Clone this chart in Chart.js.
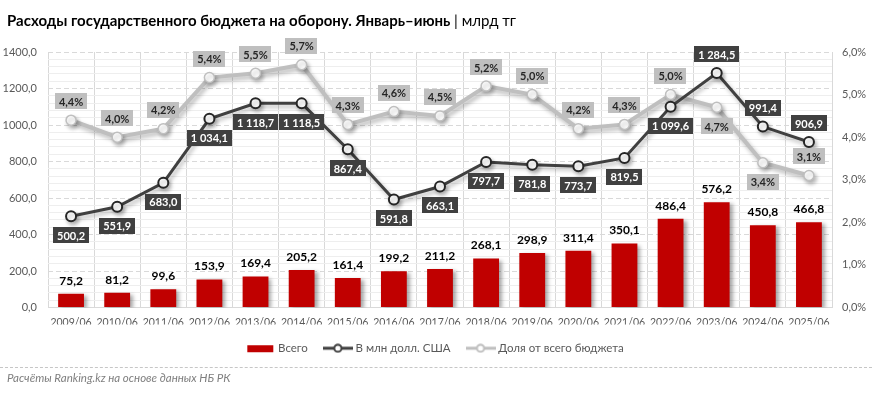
<!DOCTYPE html>
<html>
<head>
<meta charset="utf-8">
<script src="https://cdn.jsdelivr.net/npm/chart.js@4.4.1/dist/chart.umd.min.js"></script>
<style>
html,body{margin:0;padding:0;background:#fff;}
#wrap{position:relative;width:872px;height:393px;overflow:hidden;background:#fff;}
#chart{position:absolute;left:0;top:0;}
#title{position:absolute;left:7px;top:11px;font-family:Lato,"Liberation Sans",sans-serif;font-size:15px;color:#000;white-space:nowrap;line-height:18px;}
#title b{font-weight:700;}
#sep{position:absolute;left:0;top:367px;width:872px;height:0;border-top:1px dashed #c6c6c6;}
#foot{position:absolute;left:7px;top:371px;font-family:Lato,"Liberation Sans",sans-serif;font-style:italic;font-size:11.5px;color:#7f7f7f;white-space:nowrap;line-height:14px;}
</style>
</head>
<body>
<div id="wrap">
  <canvas id="chart" width="872" height="393"></canvas>
  <div id="title"><b>Расходы государственного бюджета на оборону. Январь–июнь</b> | млрд тг</div>
  <div id="sep"></div>
  <div id="foot">Расчёты Ranking.kz на основе данных НБ РК</div>
</div>
<script>
// ---- data ----
const categories = ['2009/06','2010/06','2011/06','2012/06','2013/06','2014/06','2015/06','2016/06','2017/06','2018/06','2019/06','2020/06','2021/06','2022/06','2023/06','2024/06','2025/06'];
const totalKzt = [75.2, 81.2, 99.6, 153.9, 169.4, 205.2, 161.4, 199.2, 211.2, 268.1, 298.9, 311.4, 350.1, 486.4, 576.2, 450.8, 466.8];
const usdMln = [500.2, 551.9, 683.0, 1034.1, 1118.7, 1118.5, 867.4, 591.8, 663.1, 797.7, 781.8, 773.7, 819.5, 1099.6, 1284.5, 991.4, 906.9];
const shareBudget = [4.4, 4.0, 4.2, 5.4, 5.5, 5.7, 4.3, 4.6, 4.5, 5.2, 5.0, 4.2, 4.3, 5.0, 4.7, 3.4, 3.1];
const seriesNames = ['Всего', 'В млн долл. США', 'Доля от всего бюджета'];
const leftTicks = [0, 200, 400, 600, 800, 1000, 1200, 1400];
const rightTicks = [0, 1, 2, 3, 4, 5, 6];
const usdLabelSide = ['below','below','below','below','below','below','below','below','below','below','below','below','below','below','above','above','above'];
const shareLabelSide = ['above','above','above','above','above','above','above','above','above','above','above','above','above','above','below','below','above'];

// ---- styles ----
const FONT = 'Lato, "Liberation Sans", sans-serif';
const RED = '#C00000', DARK = '#404040', GREY = '#BFBFBF';

function fmt(v){
  const s = v.toFixed(1).split('.');
  return s[0].replace(/\B(?=(\d{3})+(?!\d))/g, ' ') + ',' + s[1];
}
function fmtTick(v){
  return v.toFixed(1).replace('.', ',');
}

function makeIcon(kind){
  const c = document.createElement('canvas');
  c.width = 30; c.height = 10;
  const g = c.getContext('2d');
  if (kind === 'bar') {
    g.fillStyle = RED; g.fillRect(2, 2, 26, 7);
  } else {
    const col = kind === 'dark' ? DARK : GREY;
    g.strokeStyle = col; g.lineWidth = 3;
    g.beginPath(); g.moveTo(0, 5); g.lineTo(30, 5); g.stroke();
    g.beginPath(); g.arc(15, 5, 3.6, 0, Math.PI*2);
    g.fillStyle = '#fff'; g.fill(); g.lineWidth = 2; g.stroke();
  }
  return c;
}
const icons = [makeIcon('bar'), makeIcon('dark'), makeIcon('grey')];

const shadowPlugin = {
  id: 'shadows',
  beforeDatasetDraw(chart, args){
    const ctx = chart.ctx;
    ctx.save();
    if (args.index === 0) {
      ctx.shadowColor = 'rgba(0,0,0,0.35)';
      ctx.shadowBlur = 4; ctx.shadowOffsetX = 3; ctx.shadowOffsetY = 2;
    } else {
      ctx.shadowColor = 'rgba(0,0,0,0.28)';
      ctx.shadowBlur = 4; ctx.shadowOffsetX = 2; ctx.shadowOffsetY = 3;
    }
  },
  afterDatasetDraw(chart){
    chart.ctx.restore();
  }
};

function boxLabel(ctx, text, x, y, bg, fg){
  ctx.font = 'bold 11px ' + FONT;
  const w = ctx.measureText(text).width + 8;
  const h = 16;
  ctx.fillStyle = bg;
  ctx.fillRect(Math.round(x - w/2), Math.round(y - h/2), Math.round(w), h);
  ctx.fillStyle = fg;
  ctx.textAlign = 'center'; ctx.textBaseline = 'middle';
  ctx.fillText(text, x, y + 1);
}

const labelPlugin = {
  id: 'valueLabels',
  afterDatasetsDraw(chart){
    const ctx = chart.ctx;
    ctx.save();
    // bar labels
    const bm = chart.getDatasetMeta(0);
    ctx.font = 'bold 12px ' + FONT;
    ctx.fillStyle = '#000';
    ctx.textAlign = 'center'; ctx.textBaseline = 'middle';
    bm.data.forEach((el, i) => {
      ctx.fillText(fmt(totalKzt[i]), el.x, el.y - 13);
    });
    // share labels
    const sm = chart.getDatasetMeta(2);
    sm.data.forEach((el, i) => {
      const dy = shareLabelSide[i] === 'above' ? -19 : 19;
      boxLabel(ctx, fmt(shareBudget[i]) + '%', el.x, el.y + dy, GREY, '#262626');
    });
    // usd labels
    const um = chart.getDatasetMeta(1);
    um.data.forEach((el, i) => {
      const dy = usdLabelSide[i] === 'above' ? -19 : 19;
      boxLabel(ctx, fmt(usdMln[i]), el.x, el.y + dy, DARK, '#fff');
    });
    ctx.restore();
  }
};

new Chart(document.getElementById('chart'), {
  data: {
    labels: categories,
    datasets: [
      {
        type: 'bar', label: seriesNames[0], data: totalKzt, yAxisID: 'y',
        backgroundColor: RED, borderWidth: 0,
        barPercentage: 0.56, categoryPercentage: 1, order: 3
      },
      {
        type: 'line', label: seriesNames[1], data: usdMln, yAxisID: 'y',
        borderColor: DARK, borderWidth: 3, tension: 0,
        pointRadius: 5, pointBorderWidth: 2, pointBackgroundColor: '#fff', pointBorderColor: '#262626',
        order: 1
      },
      {
        type: 'line', label: seriesNames[2], data: shareBudget, yAxisID: 'y1',
        borderColor: GREY, borderWidth: 4, tension: 0,
        pointRadius: 5, pointBorderWidth: 1.5, pointBackgroundColor: '#fff', pointBorderColor: GREY,
        order: 2
      }
    ]
  },
  options: {
    responsive: false,
    animation: false,
    layout: { padding: { top: 52, left: 0, right: 0, bottom: 29 } },
    plugins: {
      tooltip: { enabled: false },
      title: { display: false },
      legend: {
        display: true, position: 'bottom', align: 'center',
        labels: {
          usePointStyle: true, pointStyleWidth: 24, padding: 18,
          color: '#595959', font: { family: FONT, size: 11.5 },
          generateLabels(chart){
            const items = Chart.defaults.plugins.legend.labels.generateLabels(chart);
            items.sort((a, b) => a.datasetIndex - b.datasetIndex);
            items.forEach(it => { it.pointStyle = icons[it.datasetIndex]; it.fontColor = '#595959'; });
            return items;
          }
        }
      }
    },
    scales: {
      x: {
        offset: true,
        grid: { display: true, offset: true, color: '#d9d9d9', drawTicks: false },
        border: { display: true, color: '#d9d9d9' },
        ticks: { color: '#595959', font: { family: FONT, size: 10.5 }, padding: 9, maxRotation: 0, autoSkip: false },
        afterFit(scale){ scale.height = 17; }
      },
      y: {
        position: 'left',
        min: leftTicks[0], max: leftTicks[leftTicks.length - 1],
        grid: {
          drawTicks: false,
          color: (c) => (leftTicks.includes(c.tick.value) ? '#d9d9d9' : '#eeeeee')
        },
        border: {
          display: false,
          dash: (c) => (c.tick && leftTicks.includes(c.tick.value) ? [5, 3] : [])
        },
        ticks: {
          stepSize: (leftTicks[1] - leftTicks[0]) / 5, autoSkip: false,
          color: '#595959', font: { family: FONT, size: 11 }, padding: 11,
          callback: (v) => (leftTicks.includes(v) ? fmtTick(v) : '')
        },
        afterFit(scale){ scale.width = 48; }
      },
      y1: {
        position: 'right',
        min: rightTicks[0], max: rightTicks[rightTicks.length - 1],
        grid: { drawOnChartArea: false, drawTicks: false },
        border: { display: false },
        ticks: {
          stepSize: rightTicks[1] - rightTicks[0],
          color: '#595959', font: { family: FONT, size: 11 }, padding: 10,
          callback: (v) => fmtTick(v) + '%'
        },
        afterFit(scale){ scale.width = 40; }
      }
    }
  },
  plugins: [shadowPlugin, labelPlugin]
});
</script>
</body>
</html>
